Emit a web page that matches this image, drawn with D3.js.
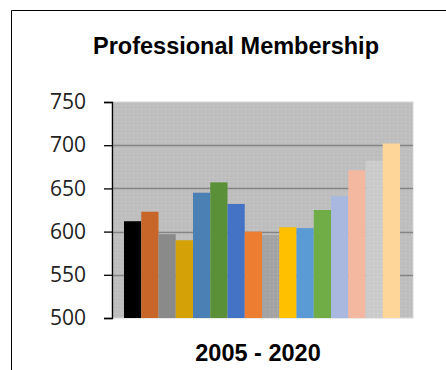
<!DOCTYPE html>
<html>
<head>
<meta charset="utf-8">
<script src="https://cdn.jsdelivr.net/npm/d3@7"></script>
<style>
  html, body { margin: 0; padding: 0; background: #fff; }
  svg { display: block; }
</style>
</head>
<body>
<script>
// Membership counts per year
const years = ["2005","2006","2007","2008","2009","2010","2011","2012",
               "2013","2014","2015","2016","2017","2018","2019","2020"];
const members = [612, 623, 597, 590, 645, 657, 632, 600,
                 596, 605, 604, 625, 641, 671, 682, 702];
const yTicks = [500, 550, 600, 650, 700, 750];
const gridValues = [550, 600, 650, 700];

// One fill per year
const palette = ["#000000","#c8662a","#8a8a8a","#d4a106","#4a80b4","#5a9138","#4472c4","#ed7d31",
                 "#a3a3a3","#ffc000","#5b9bd5","#70ad47","#a9b8de","#f4b7a0","#cdcdcd","#ffd699"];
const dotted = new Set(["2013","2019"]);

const W = 446, H = 370;
const plot = { left: 112, top: 102, right: 413, bottom: 318 };

const svg = d3.select("body").append("svg").attr("width", W).attr("height", H);
const defs = svg.append("defs");

function dotPattern(id, base, dot) {
  const p = defs.append("pattern").attr("id", id)
    .attr("patternUnits", "userSpaceOnUse").attr("width", 4).attr("height", 4);
  p.append("rect").attr("width", 4).attr("height", 4).attr("fill", base);
  p.append("rect").attr("x", 1).attr("y", 1).attr("width", 1).attr("height", 1).attr("fill", dot);
}
dotPattern("bgDots", "#bebebe", "#cdcdcd");
dotPattern("dots2013", "#a3a3a3", "#b6b6b6");
dotPattern("dots2019", "#cbcbcb", "#dadada");

// Outer frame (runs past the right and bottom edges)
svg.append("path")
  .attr("d", `M11.5,${H + 2} V10.5 H${W + 2}`)
  .attr("fill", "none").attr("stroke", "#000").attr("stroke-width", 1);

// Title
svg.append("text")
  .attr("x", 236).attr("y", 54)
  .attr("text-anchor", "middle")
  .attr("font-family", "'Liberation Sans', Arial, sans-serif")
  .attr("font-weight", "bold").attr("font-size", 23.5)
  .attr("fill", "#000")
  .text("Professional Membership");

// Scales
const y = d3.scaleLinear().domain([500, 750]).range([plot.bottom, plot.top]);
const x = d3.scaleBand().domain(years).range([plot.left + 12, plot.right - 13]).padding(0);

// Plot background
svg.append("rect")
  .attr("x", plot.left).attr("y", plot.top)
  .attr("width", plot.right - plot.left).attr("height", plot.bottom - plot.top)
  .attr("fill", "url(#bgDots)")
  .attr("stroke", "#d6d6d6").attr("stroke-width", 1);

// Gridlines
svg.append("g").selectAll("line").data(gridValues).join("line")
  .attr("x1", plot.left).attr("x2", plot.right)
  .attr("y1", d => Math.round(y(d)) + 0.5).attr("y2", d => Math.round(y(d)) + 0.5)
  .attr("stroke", "#858585").attr("stroke-width", 1.5);

// Bars
svg.append("g").selectAll("rect").data(years).join("rect")
  .attr("x", d => x(d))
  .attr("y", (d, i) => y(members[i]))
  .attr("width", x.bandwidth())
  .attr("height", (d, i) => y(500) - y(members[i]))
  .attr("fill", (d, i) => dotted.has(d) ? `url(#dots${d})` : palette[i]);

// Y axis
const yAxis = d3.axisLeft(y).tickValues(yTicks).tickSize(8).tickPadding(18)
  .tickFormat(d3.format("d"));
const gy = svg.append("g").attr("transform", `translate(${plot.left},0)`).call(yAxis);
gy.select(".domain").attr("stroke", "#000").attr("stroke-width", 1.3);
gy.selectAll(".tick line").attr("stroke", "#000").attr("stroke-width", 1.3);
gy.selectAll(".tick text")
  .attr("font-family", "'Open Sans', 'Noto Sans', sans-serif")
  .attr("font-size", 21).attr("fill", "#222");

// Category axis title
svg.append("text")
  .attr("x", 258).attr("y", 361)
  .attr("text-anchor", "middle")
  .attr("font-family", "'Liberation Sans', Arial, sans-serif")
  .attr("font-weight", "bold").attr("font-size", 23.5)
  .attr("fill", "#000")
  .text("2005 - 2020");
</script>
</body>
</html>
